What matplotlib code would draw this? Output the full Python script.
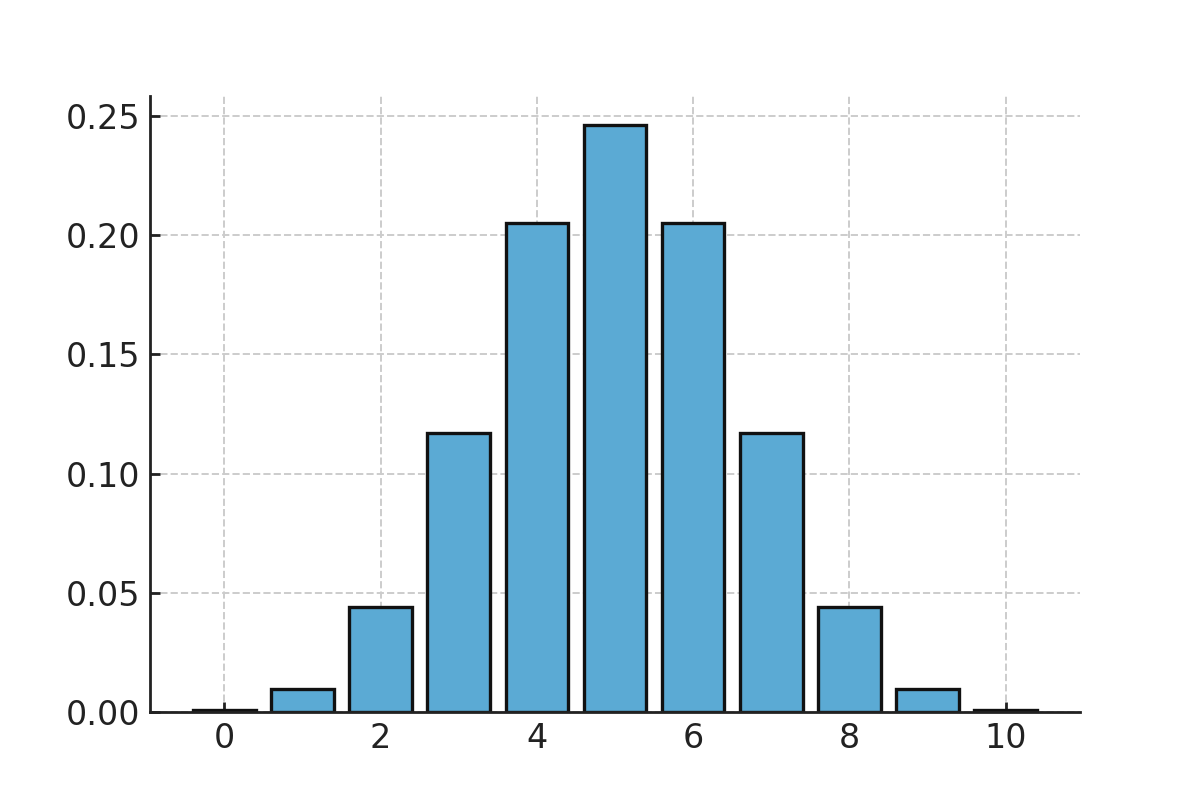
import matplotlib
matplotlib.use('Agg')
import matplotlib.pyplot as plt

# values (binomial-like pmf)
k = [0, 1, 2, 3, 4, 5, 6, 7, 8, 9, 10]
prob = [0.00098, 0.00977, 0.0439, 0.1172, 0.2051, 0.2461, 0.2051, 0.1172, 0.0439, 0.00977, 0.00098]

fig, ax = plt.subplots(figsize=(6, 4), dpi=200)
ax.bar(k, prob, width=0.8, color='#5BAAD4', edgecolor='#111111', linewidth=1.2, zorder=2)

ax.set_axisbelow(True)
ax.grid(True, linestyle='--', color='#cccccc', linewidth=0.7)
ax.spines['top'].set_visible(False)
ax.spines['right'].set_visible(False)
for s in ['left', 'bottom']:
    ax.spines[s].set_color('#222222')
    ax.spines[s].set_linewidth(1.0)
ax.tick_params(labelsize=12, colors='#222222', direction='in', length=3.5, width=1)
ax.set_xticks([0, 2, 4, 6, 8, 10])
ax.set_ylim(0, 0.2584)
ax.set_xlim(-0.95, 10.95)

plt.savefig('out.png')
